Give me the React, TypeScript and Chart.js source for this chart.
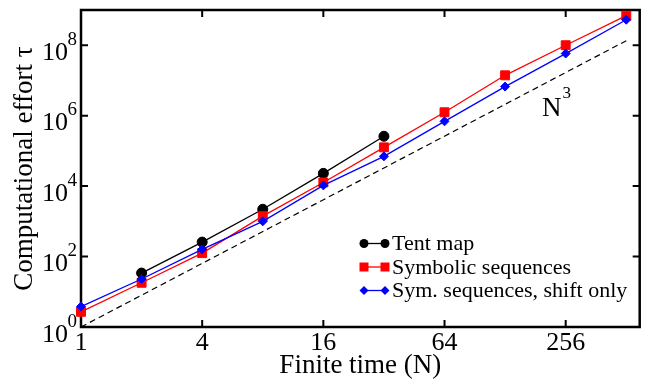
import React, { useEffect, useRef } from 'react';
import { Chart, registerables } from 'chart.js';

Chart.register(...registerables);

// ---- data ----
const nAll = [1, 2, 4, 8, 16, 32, 64, 128, 256, 512];
const nTent = [2, 4, 8, 16, 32];
const tentMap = [34, 257, 2200, 23000, 260000];
const symbolicSeq = [2.7, 18, 125, 1400, 12700, 126000, 1.25e6, 1.4e7, 1.0e8, 6.9e8];
const shiftOnly = [3.8, 23, 160, 1000, 10500, 70000, 690000, 6.7e6, 5.8e7, 5.3e8];
const cubicN = [1, 512];
const cubicTau = [1, 134217728];

const xTickValues = [1, 4, 16, 64, 256];
const yTickValues = [1, 1e2, 1e4, 1e6, 1e8];
const xMin = 1;
const xMax = 597;
const yMin = 1;
const yMax = 1e9;

const seriesLabels = ['Tent map', 'Symbolic sequences', 'Sym. sequences, shift only'];
const seriesColors = ['#000000', '#ff0000', '#0000ff'];
const seriesMarkers = ['circle', 'rect', 'rectRot'];
const xTitle = 'Finite time (N)';
const yTitle = 'Computational effort τ';
const cubicText = 'N';
const cubicSup = '3';
const cubicLabelAt = { x: 195, y: 1e6 };

const FONT = "'Liberation Serif', 'Times New Roman', serif";

function pts(xs: number[], ys: number[]) {
  return xs.map((x, i) => ({ x, y: ys[i] }));
}

function drawMarker(ctx: CanvasRenderingContext2D, style: string, x: number, y: number, r: number, color: string) {
  ctx.save();
  ctx.fillStyle = color;
  ctx.beginPath();
  if (style === 'circle') {
    ctx.arc(x, y, r, 0, Math.PI * 2);
  } else if (style === 'rect') {
    ctx.rect(x - r, y - r, 2 * r, 2 * r);
  } else {
    ctx.moveTo(x - r, y);
    ctx.lineTo(x, y - r);
    ctx.lineTo(x + r, y);
    ctx.lineTo(x, y + r);
    ctx.closePath();
  }
  ctx.fill();
  ctx.restore();
}

const decorPlugin = {
  id: 'decor',
  beforeDatasetsDraw(chart: any) {
    const { ctx, chartArea: a, scales } = chart;
    const xs = scales.x;
    const ys = scales.y;
    ctx.save();
    ctx.strokeStyle = '#000';
    ctx.lineWidth = 2;
    const tl = 7;
    ctx.beginPath();
    xTickValues.forEach((v) => {
      const px = xs.getPixelForValue(v);
      ctx.moveTo(px, a.bottom);
      ctx.lineTo(px, a.bottom - tl);
      ctx.moveTo(px, a.top);
      ctx.lineTo(px, a.top + tl);
    });
    yTickValues.forEach((v) => {
      const py = ys.getPixelForValue(v);
      ctx.moveTo(a.left, py);
      ctx.lineTo(a.left + tl, py);
      ctx.moveTo(a.right, py);
      ctx.lineTo(a.right - tl, py);
    });
    ctx.stroke();
    ctx.lineWidth = 2.5;
    ctx.strokeRect(a.left, a.top, a.right - a.left, a.bottom - a.top);
    ctx.restore();
  },
  afterDatasetsDraw(chart: any) {
    const { ctx, chartArea: a, scales } = chart;
    const xs = scales.x;
    const ys = scales.y;
    ctx.save();
    ctx.fillStyle = '#000';
    ctx.textBaseline = 'alphabetic';

    // x tick labels
    ctx.font = `26px ${FONT}`;
    ctx.textAlign = 'center';
    xs.ticks.forEach((t: any) => {
      const px = xs.getPixelForValue(t.value);
      ctx.fillText(String(t.value), px, a.bottom + 23);
    });

    // y tick labels 10^k
    ys.ticks.forEach((t: any) => {
      const py = ys.getPixelForValue(t.value);
      const exp = Math.round(Math.log10(t.value));
      ctx.font = `26px ${FONT}`;
      ctx.textAlign = 'right';
      ctx.fillText('10', a.left - 13, py + 14.5);
      ctx.font = `19px ${FONT}`;
      ctx.textAlign = 'left';
      ctx.fillText(String(exp), a.left - 13.5, py - 0.5);
    });

    // axis titles
    ctx.font = `27px ${FONT}`;
    ctx.textAlign = 'center';
    ctx.fillText(xTitle, (a.left + a.right) / 2, a.bottom + 46);
    ctx.save();
    ctx.translate(a.left - 49.5, (a.top + a.bottom) / 2);
    ctx.rotate(-Math.PI / 2);
    ctx.fillText(yTitle, 0, 0);
    ctx.restore();

    // N^3 annotation
    const lx = xs.getPixelForValue(cubicLabelAt.x);
    const ly = ys.getPixelForValue(cubicLabelAt.y);
    ctx.font = `27px ${FONT}`;
    ctx.textAlign = 'left';
    ctx.fillText(cubicText, lx, ly);
    const nw = ctx.measureText(cubicText).width;
    ctx.font = `17px ${FONT}`;
    ctx.fillText(cubicSup, lx + nw + 1, ly - 18);

    // legend
    const legX = a.left + 283;
    const baselines = [a.bottom - 77, a.bottom - 53.5, a.bottom - 30];
    const radii = [4.5, 4.5, 4.5];
    seriesLabels.forEach((lab, i) => {
      const by = baselines[i];
      const my = by - 6.5;
      ctx.strokeStyle = seriesColors[i];
      ctx.lineWidth = 1.3;
      ctx.beginPath();
      ctx.moveTo(legX, my);
      ctx.lineTo(legX + 21, my);
      ctx.stroke();
      drawMarker(ctx, seriesMarkers[i], legX, my, radii[i], seriesColors[i]);
      drawMarker(ctx, seriesMarkers[i], legX + 21, my, radii[i], seriesColors[i]);
      ctx.fillStyle = '#000';
      ctx.font = `22px ${FONT}`;
      ctx.textAlign = 'left';
      ctx.fillText(lab, legX + 28, by);
    });
    ctx.restore();
  },
};

export default function App() {
  const ref = useRef<HTMLCanvasElement | null>(null);
  useEffect(() => {
    if (!ref.current) return;
    Chart.defaults.font.family = FONT;
    const chart = new Chart(ref.current, {
      type: 'line',
      data: {
        datasets: [
          {
            label: 'N^3',
            data: pts(cubicN, cubicTau),
            borderColor: '#000',
            borderWidth: 1.2,
            borderDash: [6, 4],
            pointRadius: 0,
            fill: false,
            clip: false as any,
            order: 3,
          },
          {
            label: seriesLabels[0],
            data: pts(nTent, tentMap),
            borderColor: seriesColors[0],
            backgroundColor: seriesColors[0],
            borderWidth: 1.3,
            pointStyle: 'circle',
            pointRadius: 5,
            pointBorderWidth: 1,
            fill: false,
            clip: false as any,
            order: 2,
          },
          {
            label: seriesLabels[1],
            data: pts(nAll, symbolicSeq),
            borderColor: seriesColors[1],
            backgroundColor: seriesColors[1],
            borderWidth: 1.3,
            pointStyle: 'rect',
            pointRadius: 6.3,
            pointBorderWidth: 1,
            fill: false,
            clip: false as any,
            order: 1,
          },
          {
            label: seriesLabels[2],
            data: pts(nAll, shiftOnly),
            borderColor: seriesColors[2],
            backgroundColor: seriesColors[2],
            borderWidth: 1.3,
            pointStyle: 'rectRot',
            pointRadius: 4.5,
            pointBorderWidth: 1,
            fill: false,
            clip: false as any,
            order: 0,
          },
        ],
      },
      options: {
        animation: false,
        responsive: false,
        devicePixelRatio: 1,
        layout: { padding: { top: 10, right: 7, left: 0, bottom: 0 } },
        plugins: {
          legend: { display: false },
          tooltip: { enabled: false },
        },
        elements: { line: { tension: 0 } },
        scales: {
          x: {
            type: 'logarithmic',
            min: xMin,
            max: xMax,
            grid: { display: false },
            border: { display: false },
            afterBuildTicks: (s: any) => {
              s.ticks = xTickValues.map((v) => ({ value: v }));
            },
            afterFit: (s: any) => {
              s.height = 52;
            },
            ticks: { display: false },
          },
          y: {
            type: 'logarithmic',
            min: yMin,
            max: yMax,
            grid: { display: false },
            border: { display: false },
            afterBuildTicks: (s: any) => {
              s.ticks = yTickValues.map((v) => ({ value: v }));
            },
            afterFit: (s: any) => {
              s.width = 81;
            },
            ticks: { display: false },
          },
        },
      },
      plugins: [decorPlugin],
    } as any);
    return () => chart.destroy();
  }, []);
  return (
    <div style={{ position: 'absolute', left: 0, top: 0, width: 647, height: 379, background: '#fff' }}>
      <canvas ref={ref} width={647} height={379} style={{ display: 'block' }} />
    </div>
  );
}
